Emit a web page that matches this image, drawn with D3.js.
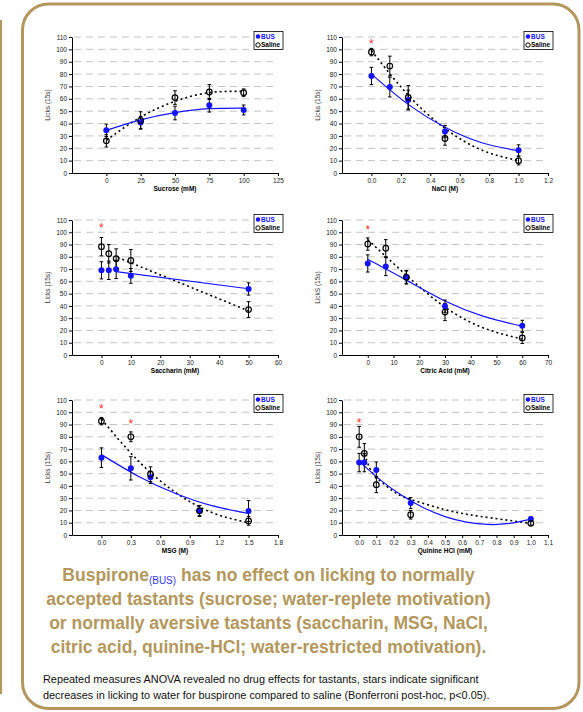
<!DOCTYPE html>
<html>
<head>
<meta charset="utf-8">
<script src="https://cdn.jsdelivr.net/npm/d3@7"></script>
<style>
  body { margin: 0; background: #fff; }
  svg { display: block; font-family: "Liberation Sans", Arial, sans-serif; }
</style>
</head>
<body>
<div class="canvas"></div>
<script>
// ---- data ----
const yTicks = [0, 10, 20, 30, 40, 50, 60, 70, 80, 90, 100, 110];
const seriesNames = ["BUS", "Saline"];

// sucrose (mM)
const sucroseX = [0, 25, 50, 75, 100];
const sucroseBus = [34.5, 40.8, 48.5, 54.8, 51];
const sucroseBusErr = [5, 5, 5.5, 5.5, 4];
const sucroseSal = [26, 42.5, 61, 65.5, 65];
const sucroseSalErr = [5, 7, 5.5, 6, 3];
const sucroseBusFit = [[0, 34.5], [25, 43], [50, 48.8], [75, 52], [100, 52.5]];
const sucroseSalFit = [[0, 26.5], [25, 45.2], [50, 58], [75, 65], [100, 66]];
const sucroseTicks = [0, 25, 50, 75, 100, 125];
const sucroseStars = [];

// NaCl (M)
const naclX = [0, 0.125, 0.25, 0.5, 1.0];
const naclBus = [78.5, 69.5, 59, 33.5, 18.3];
const naclBusErr = [7, 8, 8, 5, 4.5];
const naclSal = [97.8, 86.5, 61.2, 28, 10];
const naclSalErr = [3, 8, 9.5, 5.5, 3.5];
const naclBusFit = [[0, 80], [0.25, 55.5], [0.5, 37], [0.75, 24.5], [1.0, 18]];
const naclSalFit = [[0, 99], [0.25, 63], [0.5, 36], [0.75, 18.5], [1.0, 10]];
const naclTicks = [0, 0.2, 0.4, 0.6, 0.8, 1.0, 1.2];
const naclStars = [[0, 107]];

// saccharin (mM)
const sacchX = [0, 2.5, 5, 10, 50];
const sacchBus = [69, 69, 69.8, 64.5, 53.8];
const sacchBusErr = [7, 7.5, 7.5, 6, 5];
const sacchSal = [88.3, 82.5, 78.5, 77, 37];
const sacchSalErr = [7.5, 7.5, 8, 9, 6.5];
const sacchBusFit = [[5, 68], [50, 54]];
const sacchSalFit = [[5.5, 79.5], [50, 36]];
const sacchTicks = [0, 10, 20, 30, 40, 50, 60];
const sacchStars = [[0, 106]];

// citric acid (mM)
const citricX = [0, 7, 15, 30, 60];
const citricBus = [74.6, 72.2, 63.4, 39.8, 23.8];
const citricBusErr = [7, 7.5, 5, 5, 4.5];
const citricSal = [90.4, 87, 63.3, 35, 13.9];
const citricSalErr = [5, 7, 5.5, 7, 4.5];
const citricBusFit = [[0, 78], [15, 61], [30, 44], [45, 31.5], [60, 23.5]];
const citricSalFit = [[0, 94], [15, 65], [30, 39], [45, 22], [60, 13]];
const citricTicks = [0, 10, 20, 30, 40, 50, 60, 70];
const citricStars = [[0, 104]];

// MSG (M)
const msgX = [0, 0.3, 0.5, 1.0, 1.5];
const msgBus = [63, 54.3, 47, 19.6, 19.6];
const msgBusErr = [8, 9.5, 5, 4.5, 8.5];
const msgSal = [92.8, 80, 49.5, 19.8, 11.5];
const msgSalErr = [3, 4, 6, 4, 3.5];
const msgBusFit = [[0, 65.5], [0.375, 47.9], [0.75, 34], [1.125, 23.9], [1.5, 17.5]];
const msgSalFit = [[0, 94.5], [0.375, 60.4], [0.75, 35], [1.125, 18.3], [1.5, 10]];
const msgTicks = [0, 0.3, 0.6, 0.9, 1.2, 1.5, 1.8];
const msgStars = [[0, 105], [0.3, 92.5]];

// quinine HCl (mM)
const quinX = [0, 0.03, 0.1, 0.3, 1.0];
const quinBus = [59, 59, 53, 26, 13];
const quinBusErr = [7.5, 7.5, 6.5, 4.5, 1.5];
const quinSal = [80, 66.5, 41, 16.5, 9.5];
const quinSalErr = [8.5, 8, 6.5, 3.5, 1.5];
const quinBusFit = [[0, 60], [0.125, 44.7], [0.25, 32.1], [0.375, 22.2], [0.5, 15], [0.625, 10.5], [0.75, 8.6], [0.875, 9.4], [1.0, 13]];
const quinSalFit = [[0.03, 66], [0.06, 55], [0.1, 47], [0.2, 35.5], [0.3, 29], [0.5, 20.7], [0.7, 15.3], [1.0, 9.5]];
const quinTicks = [0, 0.1, 0.2, 0.3, 0.4, 0.5, 0.6, 0.7, 0.8, 0.9, 1.0, 1.1];
const quinStars = [[0, 93.5]];

const headline1 = ["Buspirone", "(BUS)", " has no effect on licking to normally"];
const headlineRest = [
  "accepted tastants (sucrose; water-replete motivation)",
  "or normally aversive tastants (saccharin, MSG, NaCl,",
  "citric acid, quinine-HCl; water-restricted motivation)."
];
const noteLines = [
  "Repeated measures ANOVA revealed no drug effects for tastants, stars indicate significant",
  "decreases in licking to water for buspirone compared to saline (Bonferroni post-hoc, p<0.05)."
];

// ---- layout ----
const gold = "#b3975c";
const blue = "#1414ff";
const cols = [[72, 278], [342, 548]];
const rows = [[37, 173], [220, 355], [400, 535]];
const f0 = d3.format("d");
const f1 = d3.format(".1f");

const panels = [
  { x: sucroseX, bus: sucroseBus, busErr: sucroseBusErr, sal: sucroseSal, salErr: sucroseSalErr,
    busFit: sucroseBusFit, salFit: sucroseSalFit, ticks: sucroseTicks, stars: sucroseStars,
    domain: [-25, 125], fmt: f0, xLabel: "Sucrose (mM)", yLabel: "Licks (15s)", col: 0, row: 0 },
  { x: naclX, bus: naclBus, busErr: naclBusErr, sal: naclSal, salErr: naclSalErr,
    busFit: naclBusFit, salFit: naclSalFit, ticks: naclTicks, stars: naclStars,
    domain: [-0.2, 1.2], fmt: f1, xLabel: "NaCl (M)", yLabel: "Licks (15s)", col: 1, row: 0 },
  { x: sacchX, bus: sacchBus, busErr: sacchBusErr, sal: sacchSal, salErr: sacchSalErr,
    busFit: sacchBusFit, salFit: sacchSalFit, ticks: sacchTicks, stars: sacchStars,
    domain: [-10, 60], fmt: f0, xLabel: "Saccharin (mM)", yLabel: "Licks (15s)", col: 0, row: 1 },
  { x: citricX, bus: citricBus, busErr: citricBusErr, sal: citricSal, salErr: citricSalErr,
    busFit: citricBusFit, salFit: citricSalFit, ticks: citricTicks, stars: citricStars,
    domain: [-10, 70], fmt: f0, xLabel: "Citric Acid (mM)", yLabel: "LickS (15s)", col: 1, row: 1 },
  { x: msgX, bus: msgBus, busErr: msgBusErr, sal: msgSal, salErr: msgSalErr,
    busFit: msgBusFit, salFit: msgSalFit, ticks: msgTicks, stars: msgStars,
    domain: [-0.3, 1.8], fmt: f1, xLabel: "MSG (M)", yLabel: "Licks (15s)", col: 0, row: 2 },
  { x: quinX, bus: quinBus, busErr: quinBusErr, sal: quinSal, salErr: quinSalErr,
    busFit: quinBusFit, salFit: quinSalFit, ticks: quinTicks, stars: quinStars,
    domain: [-0.1, 1.1], fmt: f1, xLabel: "Quinine HCl (mM)", yLabel: "Licks (15s)", col: 1, row: 2 }
];

const svg = d3.select(".canvas").append("svg").attr("width", 583).attr("height", 712);

// frame
svg.append("line")
  .attr("x1", 1).attr("x2", 1).attr("y1", 20).attr("y2", 694)
  .attr("stroke", gold).attr("stroke-width", 2);
svg.append("rect")
  .attr("x", 22.5).attr("y", 4).attr("width", 556.5).attr("height", 704.5).attr("rx", 26)
  .attr("fill", "none").attr("stroke", gold).attr("stroke-width", 3);

const drawPanel = (p) => {
  const [left, right] = cols[p.col];
  const [top, bottom] = rows[p.row];
  const x = d3.scaleLinear().domain(p.domain).range([left, right]);
  const y = d3.scaleLinear().domain([0, 110]).range([bottom, top]);
  const g = svg.append("g");

  // dashed grid
  g.selectAll("line.grid")
    .data(yTicks.filter((d) => d > 0))
    .join("line")
    .attr("class", "grid")
    .attr("x1", left + 2).attr("x2", right)
    .attr("y1", (d) => y(d)).attr("y2", (d) => y(d))
    .attr("stroke", "#c4c4c4").attr("stroke-width", 1)
    .attr("stroke-dasharray", "7,5");

  // trend lines
  const line = d3.line().x((d) => x(d[0])).y((d) => y(d[1])).curve(d3.curveNatural);
  g.append("path").attr("d", line(p.salFit))
    .attr("fill", "none").attr("stroke", "#000").attr("stroke-width", 1.6)
    .attr("stroke-dasharray", "2,3");
  g.append("path").attr("d", line(p.busFit))
    .attr("fill", "none").attr("stroke", blue).attr("stroke-width", 1.2);

  // error bars
  const series = [
    p.x.map((v, i) => ({ x: v, y: p.bus[i], e: p.busErr[i] })),
    p.x.map((v, i) => ({ x: v, y: p.sal[i], e: p.salErr[i] }))
  ];
  series.forEach((pts) => {
    const eg = g.append("g").attr("stroke", "#000").attr("stroke-width", 1);
    eg.selectAll("line.v").data(pts).join("line").attr("class", "v")
      .attr("x1", (d) => x(d.x)).attr("x2", (d) => x(d.x))
      .attr("y1", (d) => y(d.y - d.e)).attr("y2", (d) => y(d.y + d.e));
    eg.selectAll("line.hi").data(pts).join("line").attr("class", "hi")
      .attr("x1", (d) => x(d.x) - 1.8).attr("x2", (d) => x(d.x) + 1.8)
      .attr("y1", (d) => y(d.y + d.e)).attr("y2", (d) => y(d.y + d.e));
    eg.selectAll("line.lo").data(pts).join("line").attr("class", "lo")
      .attr("x1", (d) => x(d.x) - 1.8).attr("x2", (d) => x(d.x) + 1.8)
      .attr("y1", (d) => y(d.y - d.e)).attr("y2", (d) => y(d.y - d.e));
  });

  // markers
  g.selectAll("circle.bus").data(series[0]).join("circle").attr("class", "bus")
    .attr("cx", (d) => x(d.x)).attr("cy", (d) => y(d.y)).attr("r", 3)
    .attr("fill", blue);
  g.selectAll("circle.sal").data(series[1]).join("circle").attr("class", "sal")
    .attr("cx", (d) => x(d.x)).attr("cy", (d) => y(d.y)).attr("r", 2.8)
    .attr("fill", "none").attr("stroke", "#000").attr("stroke-width", 1.2);

  // axes
  const yAxis = d3.axisLeft(y).tickValues(yTicks).tickSize(3).tickSizeOuter(0).tickPadding(2);
  const yg = g.append("g").attr("transform", `translate(${left},0)`).call(yAxis);
  const xAxis = d3.axisBottom(x).tickValues(p.ticks).tickFormat(p.fmt)
    .tickSize(3).tickSizeOuter(0).tickPadding(2.5);
  const xg = g.append("g").attr("transform", `translate(0,${bottom})`).call(xAxis);
  [yg, xg].forEach((ag) => {
    ag.attr("font-family", null).attr("font-size", null);
    ag.selectAll("text").attr("font-size", 6.5).attr("fill", "#222");
    ag.selectAll("line, path").attr("stroke", "#000");
  });

  // axis titles
  g.append("text")
    .attr("x", (left + right) / 2).attr("y", bottom + 17.5)
    .attr("text-anchor", "middle").attr("font-size", 6.5).attr("font-weight", "bold")
    .text(p.xLabel);
  g.append("text")
    .attr("transform", `translate(${left - 22},${(top + bottom) / 2}) rotate(-90)`)
    .attr("text-anchor", "middle").attr("font-size", 6.5).attr("fill", "#333")
    .text(p.yLabel);

  // legend
  const lg = g.append("g").attr("transform", `translate(${right - 24},${top - 5.5})`);
  lg.append("rect").attr("width", 29).attr("height", 18)
    .attr("fill", "#fff").attr("stroke", "#000").attr("stroke-width", 0.8);
  seriesNames.forEach((name, i) => {
    const cy = 5 + i * 8.5;
    lg.append("circle").attr("cx", 4).attr("cy", cy).attr("r", 2.2)
      .attr("fill", i === 0 ? blue : "none")
      .attr("stroke", i === 0 ? "none" : "#000").attr("stroke-width", 1);
    lg.append("text").attr("x", 7).attr("y", cy).attr("dy", "0.35em")
      .attr("font-size", 6.5).attr("font-weight", "bold")
      .attr("fill", i === 0 ? blue : "#000")
      .text(name);
  });

  // significance stars
  g.selectAll("text.star").data(p.stars).join("text").attr("class", "star")
    .attr("x", (d) => x(d[0])).attr("y", (d) => y(d[1])).attr("dy", "0.57em")
    .attr("text-anchor", "middle").attr("font-size", 12).attr("fill", "#ff2a2a")
    .text("*");
};

panels.forEach(drawPanel);

// headline
const head = svg.append("g").attr("font-weight", "bold").attr("font-size", 17.5)
  .attr("fill", gold).attr("text-anchor", "middle");
const t1 = head.append("text").attr("x", 268.5).attr("y", 581);
t1.append("tspan").text(headline1[0]);
t1.append("tspan").attr("dy", 3).attr("font-size", 10).attr("font-weight", "normal")
  .attr("fill", "#3a3aff").text(headline1[1]);
t1.append("tspan").attr("dy", -3).text(headline1[2]);
headlineRest.forEach((s, i) => {
  head.append("text").attr("x", 268.5).attr("y", 605 + i * 24).text(s);
});

// footnote
noteLines.forEach((s, i) => {
  svg.append("text").attr("x", 43).attr("y", 682.5 + i * 16.5)
    .attr("font-size", 10.9).attr("fill", "#111").text(s);
});
</script>
</body>
</html>
